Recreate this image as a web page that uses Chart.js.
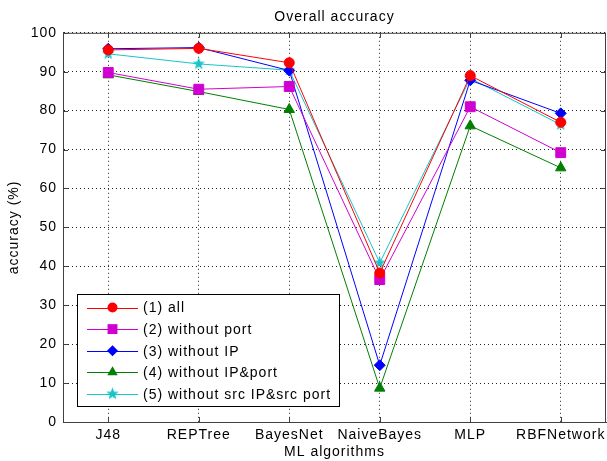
<!DOCTYPE html>
<html>
<head>
<title>Overall accuracy</title>
<script src="https://cdn.jsdelivr.net/npm/chart.js"></script>
<style>
  body { margin: 0; background: #fff; }
</style>
</head>
<body>
<canvas id="myChart" width="607" height="461"></canvas>

<script>
// data
var algorithms = ['J48', 'REPTree', 'BayesNet', 'NaiveBayes', 'MLP', 'RBFNetwork'];
var accAll       = [95.6, 96.0, 92.3, 38.3, 89.0, 77.0];
var accNoPort    = [89.8, 85.5, 86.2, 36.6, 81.0, 69.2];
var accNoIP      = [95.9, 96.2, 90.3, 14.6, 87.8, 79.3];
var accNoIPPort  = [89.2, 84.9, 80.3, 8.7, 76.1, 65.3];
var accNoSrc     = [94.6, 92.0, 90.4, 40.9, 88.3, 76.4];
var seriesNames = ['(1) all', '(2) without port', '(3) without IP',
                   '(4) without IP&port', '(5) without src IP&src port'];
var yTicks = [0, 10, 20, 30, 40, 50, 60, 70, 80, 90, 100];

var FONT = '"Liberation Sans", Arial, sans-serif';
Chart.defaults.font.family = FONT;
Chart.defaults.font.size = 14;
Chart.defaults.color = '#000';

var colors = ['#ff0000', '#d000d0', '#0000ff', '#007f00', '#18c4c8'];

// filled pentagram like matlab's 'p' marker
function makeStar(color, r) {
    var c = document.createElement('canvas');
    c.width = c.height = r * 2 + 2;
    var g = c.getContext('2d');
    g.beginPath();
    for (var i = 0; i < 10; i++) {
        var rr = i % 2 ? r * 0.42 : r;
        var a = -Math.PI / 2 + i * Math.PI / 5;
        g.lineTo(r + 1 + rr * Math.cos(a), r + 1 + rr * Math.sin(a));
    }
    g.closePath();
    g.fillStyle = color;
    g.fill();
    return c;
}
var starImg = makeStar(colors[4], 6.5);

var markers = ['circle', 'rect', 'rectRot', 'triangle', starImg];
var radii = [5, 7, 5.5, 6, 6];

function ds(i, data) {
    return {
        label: seriesNames[i],
        data: data,
        borderColor: colors[i],
        backgroundColor: colors[i],
        pointBackgroundColor: colors[i],
        pointBorderColor: colors[i],
        pointStyle: markers[i],
        pointRadius: radii[i],
        pointHoverRadius: radii[i],
        borderWidth: 1,
        pointBorderWidth: 1,
        tension: 0
    };
}

// letter spacing to get closer to the wide matlab text
// (canvas resize wipes the context state, so set it again before each pass)
var spacing = {
    id: 'spacing',
    beforeUpdate: function(chart) { chart.ctx.letterSpacing = '1px'; },
    beforeDraw: function(chart) { chart.ctx.letterSpacing = '1px'; }
};

// matlab box: top/right border and inward ticks
var boxPlugin = {
    id: 'box',
    beforeDatasetsDraw: function(chart) {
        var ctx = chart.ctx, a = chart.chartArea;
        var xs = chart.scales.x, ys = chart.scales.y;
        ctx.save();
        ctx.strokeStyle = '#404040';
        ctx.lineWidth = 1;
        ctx.setLineDash([]);
        ctx.beginPath();
        ctx.moveTo(a.left, a.top + 0.5); ctx.lineTo(a.right, a.top + 0.5);
        ctx.moveTo(a.right - 0.5, a.top); ctx.lineTo(a.right - 0.5, a.bottom);
        xs.ticks.forEach(function(t, i) {
            var x = Math.round(xs.getPixelForTick(i)) + 0.5;
            ctx.moveTo(x, a.top); ctx.lineTo(x, a.top + 5);
            ctx.moveTo(x, a.bottom); ctx.lineTo(x, a.bottom - 5);
        });
        ys.ticks.forEach(function(t, i) {
            var y = Math.round(ys.getPixelForTick(i)) + 0.5;
            ctx.moveTo(a.left, y); ctx.lineTo(a.left + 5, y);
            ctx.moveTo(a.right, y); ctx.lineTo(a.right - 5, y);
        });
        ctx.stroke();
        ctx.restore();
    }
};

function legendMarker(ctx, style, x, y, r, color) {
    ctx.fillStyle = color;
    ctx.beginPath();
    if (style === 'circle') {
        ctx.arc(x, y, r, 0, Math.PI * 2);
    } else if (style === 'rect') {
        var s = r * Math.SQRT1_2;
        ctx.rect(x - s, y - s, s * 2, s * 2);
    } else if (style === 'rectRot') {
        ctx.moveTo(x - r, y); ctx.lineTo(x, y - r); ctx.lineTo(x + r, y); ctx.lineTo(x, y + r);
    } else if (style === 'triangle') {
        ctx.moveTo(x - r * 0.866, y + r * 0.5); ctx.lineTo(x, y - r); ctx.lineTo(x + r * 0.866, y + r * 0.5);
    } else {
        ctx.drawImage(style, x - style.width / 2, y - style.height / 2);
        return;
    }
    ctx.closePath();
    ctx.fill();
}

// legend box inside the plot, lower left
var insideLegend = {
    id: 'insideLegend',
    afterDraw: function(chart) {
        var ctx = chart.ctx, a = chart.chartArea;
        var sets = chart.data.datasets;
        ctx.save();
        ctx.letterSpacing = '1px';
        ctx.font = '14px ' + FONT;
        var maxW = 0;
        sets.forEach(function(d) { maxW = Math.max(maxW, ctx.measureText(d.label).width); });
        var rowH = 21.6;
        var w = 66 + maxW + 8, h = rowH * sets.length + 4;
        var x0 = a.left + 14, y0 = a.bottom - 16 - h;
        ctx.fillStyle = '#fff';
        ctx.fillRect(x0, y0, w, h);
        ctx.strokeStyle = '#000';
        ctx.lineWidth = 1;
        ctx.strokeRect(Math.round(x0) + 0.5, Math.round(y0) + 0.5, Math.round(w), Math.round(h));
        sets.forEach(function(d, i) {
            var y = y0 + 13.5 + i * rowH;
            ctx.strokeStyle = d.borderColor;
            ctx.beginPath();
            ctx.moveTo(x0 + 10, Math.round(y) + 0.5);
            ctx.lineTo(x0 + 61, Math.round(y) + 0.5);
            ctx.stroke();
            legendMarker(ctx, d.pointStyle, x0 + 35.5, y, d.pointRadius, d.borderColor);
            ctx.fillStyle = '#000';
            ctx.textBaseline = 'middle';
            ctx.textAlign = 'left';
            ctx.fillText(d.label, x0 + 66, y + 1);
        });
        ctx.restore();
    }
};

var ctx = document.getElementById('myChart').getContext('2d');
var myChart = new Chart(ctx, {
    type: 'line',
    data: {
        labels: algorithms,
        datasets: [
            ds(0, accAll),
            ds(1, accNoPort),
            ds(2, accNoIP),
            ds(3, accNoIPPort),
            ds(4, accNoSrc)
        ]
    },
    plugins: [spacing, boxPlugin, insideLegend],
    options: {
        responsive: false,
        animation: false,
        events: [],
        layout: { autoPadding: false, padding: { left: 0, right: 1, top: 0, bottom: 0 } },
        plugins: {
            legend: { display: false },
            tooltip: { enabled: false },
            title: {
                display: true,
                text: 'Overall accuracy',
                fullSize: false,
                color: '#000',
                font: { size: 14, weight: 'normal' },
                padding: { top: 9, bottom: 7 }
            }
        },
        scales: {
            x: {
                offset: true,
                grid: { offset: false, color: '#222', drawTicks: false },
                border: { color: '#404040', dash: [1, 3] },
                ticks: { padding: 5, autoSkip: false, maxRotation: 0, color: '#000' },
                title: { display: true, text: 'ML algorithms', color: '#000',
                         font: { size: 14 }, padding: { top: 0, bottom: 0 } },
                afterFit: function(s) { s.height = 39; s.paddingLeft = 0; s.paddingRight = 0; }
            },
            y: {
                min: 0,
                max: 100,
                afterBuildTicks: function(s) { s.ticks = yTicks.map(function(v) { return { value: v }; }); },
                grid: { color: '#222', drawTicks: false },
                border: { color: '#404040', dash: [1, 3] },
                ticks: { padding: 6, color: '#000' },
                title: { display: true, text: 'accuracy (%)', color: '#000',
                         font: { size: 14 }, padding: { top: 6, bottom: 0 } },
                afterFit: function(s) { s.width = 63; s.paddingTop = 0; s.paddingBottom = 0; }
            }
        }
    }
});
</script>
</body>
</html>
